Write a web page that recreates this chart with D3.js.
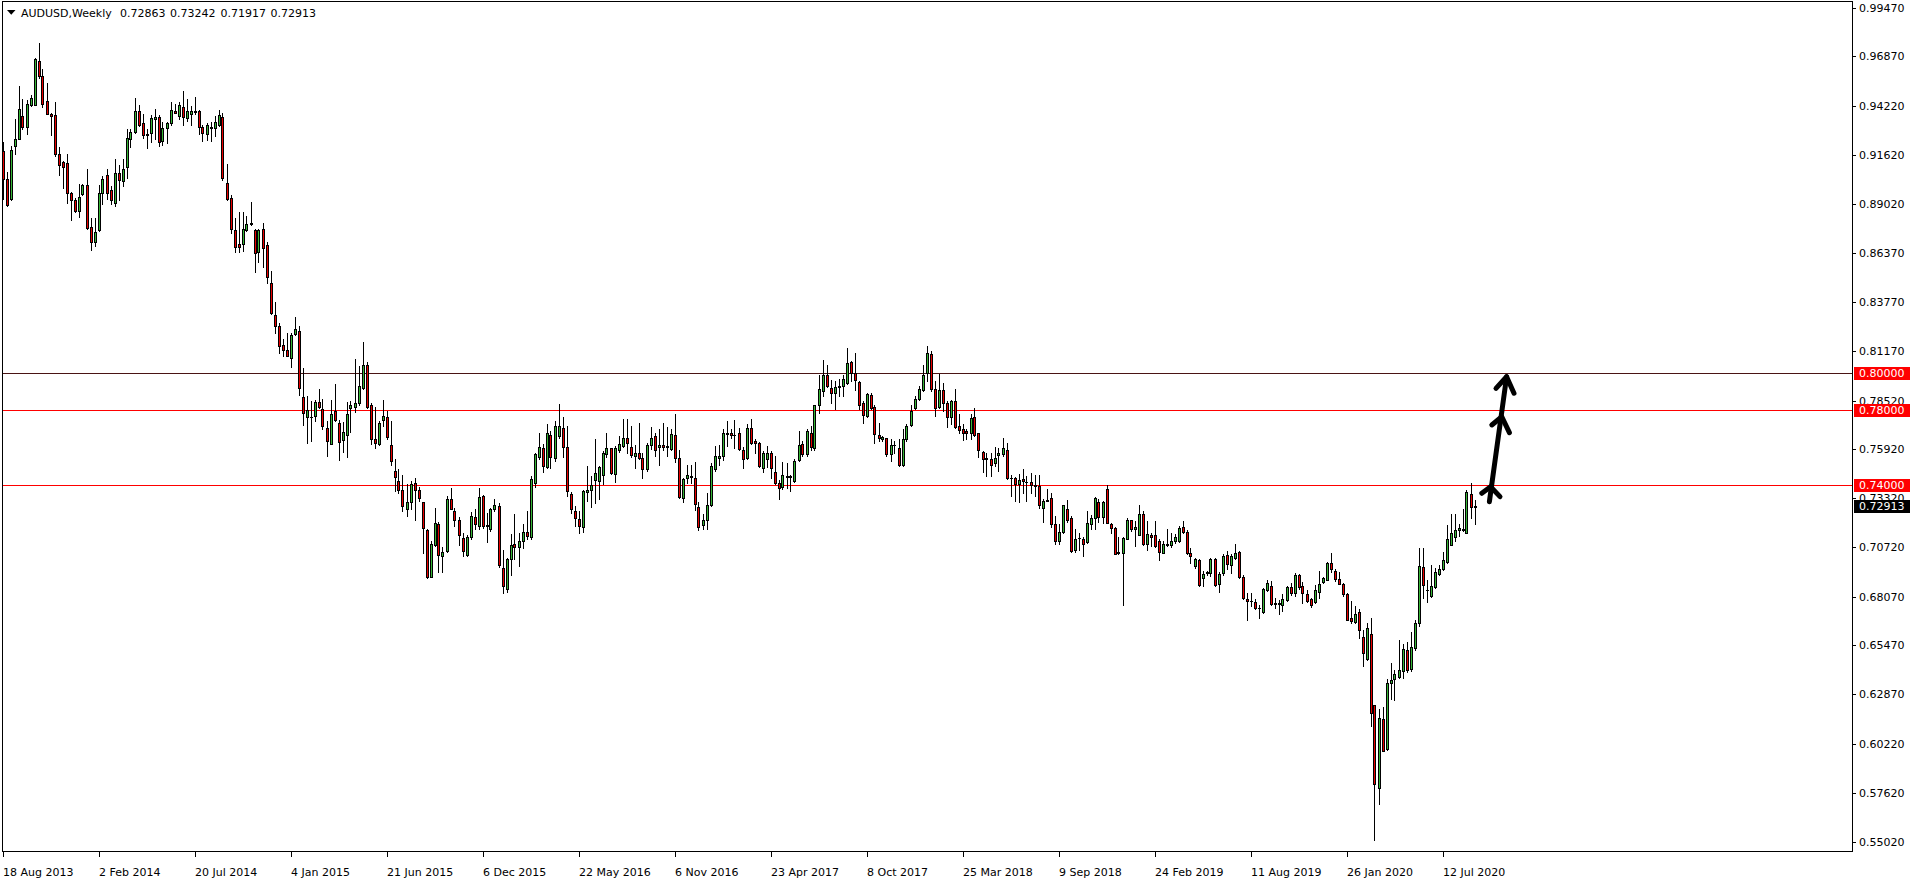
<!DOCTYPE html>
<html><head><meta charset="utf-8">
<script src="https://cdn.jsdelivr.net/npm/d3@7"></script>
<style>
html,body{margin:0;padding:0;background:#fff;overflow:hidden}
svg{display:block}
text{font-family:"DejaVu Sans",sans-serif;font-size:11px;fill:#000}
</style>
</head><body>
<svg id="chart" width="1916" height="884"></svg>
<script>
const symbol = "AUDUSD,Weekly";
const headerValues = ["0.72863", "0.73242", "0.71917", "0.72913"];

const openP = [
.9181,.9034,.8929,.9208,.9247,.9371,.9309,.9425,.9430,.9663,
.9581,.9450,.9380,.9375,.9165,.9125,.9119,.8959,.8920,.8862,
.8954,.8999,.8778,.8698,.8760,.8959,.9055,.8974,.8906,.9066,
.9021,.9098,.9247,.9284,.9395,.9332,.9274,.9279,.9354,.9364,
.9235,.9306,.9332,.9398,.9371,.9419,.9359,.9382,.9398,.9398,
.9311,.9274,.9311,.9306,.9323,.9364,.9013,.8933,.8759,.8684,
.8687,.8759,.8794,.8759,.8643,.8769,.8679,.8476,.8309,.8249,
.8146,.8124,.8080,.8208,.8225,.7872,.7764,.7764,.7769,.7847,
.7805,.7707,.7622,.7794,.7733,.7641,.7670,.7812,.7817,.7840,
.7920,.8039,.7826,.7648,.7622,.7748,.7766,.7613,.7479,.7424,
.7378,.7275,.7311,.7412,.7378,.7309,.7160,.6914,.7080,.7192,
.7023,.7049,.7325,.7261,.7218,.7120,.7028,.7124,.7232,.7186,
.7343,.7190,.7165,.7272,.7289,.6961,.6849,.7005,.7085,.7071,
.7106,.7151,.7124,.7414,.7551,.7600,.7497,.7671,.7547,.7662,
.7707,.7602,.7355,.7261,.7222,.7179,.7366,.7374,.7431,.7422,
.7455,.7565,.7597,.7462,.7588,.7609,.7654,.7606,.7556,.7574,
.7547,.7485,.7613,.7662,.7606,.7614,.7602,.7595,.7669,.7547,
.7334,.7440,.7449,.7440,.7284,.7190,.7213,.7293,.7485,.7547,
.7556,.7673,.7680,.7671,.7680,.7591,.7547,.7707,.7639,.7627,
.7494,.7542,.7574,.7472,.7414,.7392,.7446,.7448,.7422,.7533,
.7622,.7565,.7680,.7600,.7828,.7902,.7986,.7920,.7893,.7925,
.7929,.7947,.8057,.8000,.7952,.7837,.7769,.7884,.7819,.7669,
.7648,.7650,.7565,.7613,.7597,.7506,.7645,.7721,.7810,.7861,
.7906,.8000,.8101,.7915,.7817,.7908,.7840,.7765,.7852,.7716,
.7702,.7689,.7680,.7765,.7677,.7579,.7544,.7541,.7520,.7563,
.7568,.7591,.7439,.7440,.7407,.7435,.7420,.7419,.7401,.7399,
.7280,.7318,.7334,.7192,.7103,.7151,.7272,.7227,.7055,.7118,
.7115,.7097,.7192,.7224,.7314,.7231,.7382,.7195,.7174,.7046,
.7041,.7115,.7213,.7169,.7138,.7250,.7089,.7138,.7138,.7106,
.7041,.7081,.7080,.7103,.7103,.7179,.7154,.7041,.6969,.7000,
.6907,.6934,.6934,.7010,.6872,.6934,.7028,.6978,.7014,.7046,
.6911,.6797,.6784,.6778,.6748,.6724,.6842,.6866,.6771,.6769,
.6760,.6788,.6858,.6824,.6920,.6863,.6819,.6792,.6778,.6833,
.6886,.6898,.6987,.6946,.6902,.6875,.6819,.6691,.6671,.6726,
.6593,.6477,.6609,.6229,.5788,.6156,.5996,.6348,.6369,.6378,
.6410,.6524,.6419,.6531,.6665,.6966,.6845,.6810,.6859,.6930,
.6952,.6991,.7081,.7126,.7161,.7163,.7147,.7355,.72863];

const highP = [
.9231,.9071,.9208,.9355,.9528,.9457,.9453,.9483,.9679,.9759,
.9620,.9542,.9386,.9444,.9204,.9128,.9167,.8963,.8933,.9004,
.9004,.9087,.8826,.8826,.8999,.9048,.9084,.8995,.9137,.9110,
.9137,.9300,.9300,.9462,.9425,.9377,.9302,.9375,.9407,.9373,
.9336,.9336,.9442,.9435,.9446,.9503,.9460,.9421,.9469,.9403,
.9323,.9332,.9336,.9368,.9403,.9386,.9114,.8950,.8826,.8856,
.8856,.8835,.8911,.8764,.8764,.8796,.8698,.8544,.8378,.8266,
.8178,.8213,.8213,.8295,.8249,.8027,.7879,.7849,.7854,.7915,
.7861,.7742,.7854,.7943,.7751,.7737,.7844,.7849,.8076,.8035,
.8165,.8057,.7840,.7819,.7742,.7854,.7799,.7742,.7538,.7488,
.7453,.7405,.7423,.7440,.7392,.7312,.7165,.7106,.7282,.7204,
.7073,.7346,.7384,.7281,.7232,.7144,.7135,.7257,.7272,.7387,
.7348,.7254,.7281,.7328,.7307,.7055,.7014,.7143,.7245,.7147,
.7192,.7261,.7449,.7574,.7680,.7618,.7725,.7689,.7742,.7836,
.7764,.7719,.7366,.7289,.7263,.7373,.7502,.7449,.7645,.7503,
.7582,.7677,.7600,.7609,.7662,.7755,.7755,.7716,.7613,.7733,
.7570,.7627,.7712,.7680,.7702,.7733,.7712,.7698,.7781,.7586,
.7440,.7511,.7511,.7524,.7311,.7250,.7360,.7520,.7609,.7613,
.7698,.7742,.7698,.7748,.7707,.7606,.7725,.7755,.7645,.7630,
.7582,.7609,.7582,.7559,.7431,.7524,.7520,.7455,.7538,.7689,
.7636,.7701,.7716,.7831,.7988,.8066,.8039,.7961,.7959,.7968,
.7986,.8130,.8062,.8103,.7956,.7849,.7893,.7890,.7826,.7730,
.7662,.7653,.7645,.7639,.7648,.7698,.7725,.7826,.7876,.7929,
.8039,.8142,.8115,.7956,.7991,.7947,.7849,.7854,.7915,.7778,
.7725,.7698,.7778,.7810,.7680,.7582,.7570,.7570,.7606,.7600,
.7650,.7627,.7453,.7446,.7462,.7485,.7449,.7467,.7458,.7456,
.7325,.7382,.7360,.7236,.7192,.7296,.7320,.7236,.7165,.7144,
.7126,.7263,.7240,.7339,.7330,.7319,.7401,.7200,.7179,.7126,
.7126,.7224,.7218,.7209,.7298,.7263,.7209,.7147,.7209,.7112,
.7103,.7168,.7147,.7142,.7183,.7209,.7160,.7067,.7014,.7005,
.6943,.6946,.7014,.7014,.6937,.7032,.7049,.7032,.7085,.7049,
.6920,.6824,.6824,.6792,.6765,.6854,.6898,.6890,.6799,.6787,
.6819,.6863,.6881,.6934,.6930,.6884,.6842,.6801,.6867,.6943,
.6913,.6991,.7041,.6957,.6937,.6881,.6825,.6783,.6756,.6739,
.6627,.6664,.6691,.6232,.6206,.6220,.6369,.6451,.6414,.6575,
.6552,.6566,.6620,.6685,.7067,.7067,.6898,.6978,.6961,.6978,
.7044,.7188,.7245,.7245,.7192,.7275,.7373,.7414,.73242];

const lowP = [
.8924,.8888,.8920,.9164,.9244,.9297,.9275,.9421,.9425,.9572,
.9418,.9377,.9265,.9155,.9053,.8984,.8906,.8817,.8856,.8830,
.8950,.8764,.8657,.8675,.8755,.8902,.8927,.8902,.8888,.8920,
.8995,.9039,.9204,.9279,.9315,.9252,.9199,.9229,.9247,.9208,
.9212,.9226,.9323,.9383,.9354,.9323,.9341,.9323,.9382,.9275,
.9235,.9240,.9238,.9261,.9315,.9027,.8920,.8746,.8643,.8643,
.8648,.8755,.8789,.8536,.8592,.8565,.8476,.8316,.8213,.8107,
.8089,.8089,.8032,.8204,.7881,.7721,.7627,.7639,.7742,.7813,
.7703,.7559,.7618,.7742,.7533,.7579,.7549,.7684,.7790,.7831,
.7915,.7810,.7618,.7600,.7613,.7716,.7645,.7510,.7369,.7360,
.7263,.7236,.7272,.7215,.7316,.7037,.6907,.6911,.7076,.6937,
.6939,.7046,.7272,.7183,.7081,.7023,.7023,.7112,.7168,.7165,
.7174,.7097,.7156,.7263,.6966,.6824,.6831,.6920,.7005,.6973,
.7067,.7115,.7112,.7391,.7543,.7471,.7492,.7494,.7529,.7653,
.7552,.7342,.7254,.7183,.7144,.7151,.7316,.7286,.7307,.7325,
.7405,.7552,.7463,.7417,.7577,.7606,.7574,.7552,.7494,.7538,
.7440,.7476,.7595,.7556,.7508,.7591,.7556,.7591,.7524,.7334,
.7311,.7413,.7413,.7268,.7161,.7165,.7165,.7289,.7476,.7511,
.7535,.7609,.7650,.7600,.7591,.7494,.7538,.7618,.7574,.7497,
.7470,.7499,.7437,.7410,.7328,.7382,.7387,.7369,.7417,.7529,
.7559,.7556,.7588,.7588,.7787,.7879,.7925,.7837,.7805,.7876,
.7876,.7941,.7955,.7908,.7805,.7730,.7765,.7805,.7627,.7639,
.7636,.7559,.7529,.7574,.7503,.7503,.7639,.7716,.7805,.7854,
.7902,.7956,.7905,.7769,.7810,.7796,.7710,.7725,.7707,.7677,
.7641,.7645,.7645,.7662,.7552,.7471,.7450,.7449,.7502,.7476,
.7556,.7435,.7346,.7319,.7311,.7357,.7316,.7357,.7343,.7280,
.7204,.7316,.7179,.7090,.7090,.7147,.7204,.7044,.7044,.7058,
.7023,.7094,.7169,.7169,.7204,.7201,.7197,.7147,.7032,.7032,
.6762,.7112,.7156,.7076,.7135,.7080,.7058,.7076,.7073,.7002,
.7037,.7076,.7073,.7094,.7097,.7147,.7035,.6987,.6961,.6863,
.6863,.6925,.6916,.6863,.6831,.6925,.6957,.6934,.7009,.6907,
.6797,.6685,.6756,.6739,.6694,.6721,.6836,.6762,.6747,.6712,
.6730,.6783,.6815,.6810,.6849,.6774,.6779,.6753,.6771,.6801,
.6881,.6895,.6938,.6890,.6872,.6813,.6682,.6668,.6664,.6588,
.6437,.6472,.6120,.5509,.5703,.5984,.5989,.6264,.6255,.6374,
.6371,.6405,.6410,.6522,.6650,.6801,.6778,.6806,.6854,.6920,
.6948,.6984,.7080,.7106,.7129,.7156,.7144,.7227,.71917];

const closeP = [
.9034,.8894,.9187,.9247,.9407,.9309,.9434,.9466,.9670,.9581,
.9432,.9380,.9368,.9165,.9107,.9098,.8959,.8920,.8862,.8938,
.8999,.8771,.8698,.8751,.8959,.9034,.8959,.8920,.9066,.9027,
.9084,.9249,.9284,.9398,.9323,.9267,.9267,.9359,.9364,.9229,
.9306,.9332,.9402,.9386,.9425,.9364,.9393,.9393,.9391,.9309,
.9279,.9320,.9307,.9338,.9375,.9036,.8924,.8767,.8671,.8671,
.8764,.8794,.8799,.8636,.8759,.8666,.8510,.8320,.8249,.8142,
.8121,.8092,.8204,.8236,.7918,.7787,.7803,.7766,.7847,.7817,
.7716,.7636,.7778,.7748,.7632,.7685,.7781,.7826,.7840,.7932,
.8044,.7817,.7648,.7627,.7733,.7772,.7657,.7529,.7446,.7378,
.7289,.7314,.7408,.7376,.7332,.7172,.6914,.7090,.7197,.7028,
.7046,.7328,.7275,.7215,.7135,.7049,.7126,.7239,.7192,.7339,
.7186,.7183,.7272,.7298,.6975,.6863,.7009,.7083,.7071,.7105,
.7152,.7129,.7435,.7565,.7606,.7503,.7680,.7551,.7719,.7714,
.7606,.7369,.7272,.7227,.7183,.7369,.7378,.7400,.7467,.7497,
.7570,.7600,.7467,.7600,.7623,.7654,.7627,.7561,.7570,.7547,
.7488,.7616,.7655,.7591,.7613,.7602,.7609,.7675,.7547,.7337,
.7435,.7456,.7446,.7303,.7179,.7217,.7298,.7503,.7556,.7559,
.7680,.7677,.7668,.7668,.7595,.7542,.7708,.7627,.7627,.7503,
.7574,.7574,.7490,.7414,.7387,.7455,.7450,.7446,.7529,.7616,
.7568,.7689,.7606,.7826,.7915,.7986,.7929,.7893,.7925,.7932,
.7968,.8053,.8000,.7961,.7828,.7774,.7888,.7810,.7675,.7650,
.7659,.7565,.7613,.7615,.7506,.7645,.7719,.7799,.7861,.7916,
.7986,.8107,.7915,.7813,.7911,.7840,.7764,.7849,.7712,.7695,
.7680,.7677,.7760,.7668,.7586,.7541,.7541,.7508,.7547,.7570,
.7600,.7439,.7437,.7405,.7430,.7423,.7419,.7403,.7399,.7295,
.7319,.7320,.7192,.7103,.7152,.7293,.7213,.7049,.7115,.7121,
.7089,.7200,.7227,.7334,.7231,.7312,.7200,.7174,.7035,.7041,
.7121,.7218,.7165,.7179,.7250,.7089,.7142,.7126,.7076,.7044,
.7085,.7088,.7101,.7124,.7174,.7151,.7041,.7023,.7005,.6867,
.6930,.6941,.7005,.6868,.6930,.7026,.6982,.7023,.7041,.6911,
.6801,.6783,.6782,.6747,.6747,.6849,.6881,.6769,.6770,.6771,
.6792,.6859,.6824,.6920,.6858,.6824,.6786,.6760,.6845,.6877,
.6904,.6987,.6952,.6902,.6877,.6822,.6685,.6678,.6715,.6628,
.6508,.6641,.6188,.5809,.6161,.5987,.6348,.6364,.6396,.6417,
.6529,.6415,.6540,.6668,.6973,.6867,.6840,.6866,.6939,.6952,
.7002,.7112,.7147,.7160,.7174,.7165,.7366,.7284,.72913];

const priceTickLabels = ["0.99470","0.96870","0.94220","0.91620","0.89020","0.86370",
  "0.83770","0.81170","0.78520","0.75920","0.73320","0.70720","0.68070","0.65470",
  "0.62870","0.60220","0.57620","0.55020"];

const dateTickLabels = ["18 Aug 2013","2 Feb 2014","20 Jul 2014","4 Jan 2015","21 Jun 2015",
  "6 Dec 2015","22 May 2016","6 Nov 2016","23 Apr 2017","8 Oct 2017","25 Mar 2018",
  "9 Sep 2018","24 Feb 2019","11 Aug 2019","26 Jan 2020","12 Jul 2020"];
const dateTickBars = [0,24,48,72,96,120,144,168,192,216,240,264,288,312,336,360];

const levelPrices = [0.80, 0.78, 0.74];
const levelLabels = ["0.80000", "0.78000", "0.74000"];
const levelLineColors = ["#4a1414", "#ff0000", "#ff0000"];
const lastPriceLabel = "0.72913";

// hand-drawn arrow annotation, in (bar index, price)
const arrowStem = [[371.6, 0.7313], [375.9, 0.7979]];
const arrowHeads = [
  [[369.7, 0.7358], [371.9, 0.7393], [374.25, 0.7340]],
  [[372.2, 0.7722], [374.7, 0.7766], [376.6, 0.7681]],
  [[373.25, 0.7917], [375.9, 0.7979], [377.75, 0.7891]]
];

const bullColor = "#36b536";
const bearColor = "#e80000";

const svg = d3.select("#chart");
const frame = {left: 2, top: 1, right: 1852, bottom: 851};

const x = d3.scaleLinear().domain([0, 368]).range([3, 1475]);
const y = d3.scaleLinear().domain([0.5502, 0.9947]).range([841.5, 7.5]);

svg.append("rect").attr("width", 1916).attr("height", 884).attr("fill", "#fff");

svg.append("defs").append("clipPath").attr("id", "plotclip")
  .append("rect").attr("x", frame.left).attr("y", frame.top)
  .attr("width", frame.right - frame.left).attr("height", frame.bottom - frame.top);

const plot = svg.append("g").attr("clip-path", "url(#plotclip)").attr("shape-rendering", "crispEdges");

// level lines
levelPrices.forEach((p, k) => {
  const r = Math.round(y(p)) + 0.5;
  plot.append("line").attr("x1", frame.left).attr("x2", frame.right)
    .attr("y1", r).attr("y2", r).attr("stroke", levelLineColors[k]).attr("stroke-width", 1);
});

// candles
const data = openP.map((o, i) => ({i, o, h: highP[i], l: lowP[i], c: closeP[i]}));
const candles = plot.append("g");
data.forEach(d => {
  const col = Math.floor(x(d.i));
  const yh = Math.round(y(d.h)), yl = Math.round(y(d.l));
  candles.append("line").attr("x1", col + 0.5).attr("x2", col + 0.5)
    .attr("y1", yh).attr("y2", yl + 1).attr("stroke", "#000").attr("stroke-width", 1);
  const top = Math.round(y(Math.max(d.o, d.c)));
  const bot = Math.round(y(Math.min(d.o, d.c)));
  if (bot - top < 1) {
    candles.append("line").attr("x1", col - 1).attr("x2", col + 2)
      .attr("y1", top + 0.5).attr("y2", top + 0.5).attr("stroke", "#000");
  } else {
    candles.append("rect").attr("x", col - 0.5).attr("y", top + 0.5)
      .attr("width", 2).attr("height", bot - top)
      .attr("fill", d.c >= d.o ? bullColor : bearColor)
      .attr("stroke", "#000").attr("stroke-width", 1);
  }
});

// arrow annotation
const lineGen = d3.line().x(p => x(p[0])).y(p => y(p[1]));
const arrowG = svg.append("g").attr("fill", "none").attr("stroke", "#000")
  .attr("stroke-width", 5).attr("stroke-linecap", "round").attr("stroke-linejoin", "round");
arrowG.append("path").attr("d", lineGen(arrowStem));
arrowHeads.forEach(h => arrowG.append("path").attr("d", lineGen(h)));

// frame
svg.append("rect").attr("x", frame.left + 0.5).attr("y", frame.top + 0.5)
  .attr("width", frame.right - frame.left).attr("height", frame.bottom - frame.top)
  .attr("fill", "none").attr("stroke", "#000").attr("shape-rendering", "crispEdges");

// right price axis
const axR = svg.append("g").attr("shape-rendering", "crispEdges");
priceTickLabels.forEach(t => {
  const r = Math.round(y(+t));
  axR.append("line").attr("x1", frame.right + 1).attr("x2", frame.right + 4)
    .attr("y1", r + 0.5).attr("y2", r + 0.5).attr("stroke", "#000");
  axR.append("text").attr("x", 1859).attr("y", r).attr("dy", "0.36em").text(t);
});

// level labels
levelPrices.forEach((p, k) => {
  const r = Math.round(y(p));
  axR.append("rect").attr("x", 1854).attr("y", r - 6).attr("width", 56).attr("height", 13).attr("fill", "#ff0000");
  axR.append("text").attr("x", 1859).attr("y", r).attr("dy", "0.36em").style("fill", "#fff").text(levelLabels[k]);
});
{
  const r = Math.round(y(closeP[closeP.length - 1]));
  axR.append("rect").attr("x", 1854).attr("y", r - 6).attr("width", 56).attr("height", 13).attr("fill", "#000");
  axR.append("text").attr("x", 1859).attr("y", r).attr("dy", "0.36em").style("fill", "#fff").text(lastPriceLabel);
}

// bottom date axis
const axB = svg.append("g").attr("shape-rendering", "crispEdges");
dateTickBars.forEach((b, k) => {
  const col = Math.floor(x(b));
  axB.append("line").attr("x1", col + 0.5).attr("x2", col + 0.5)
    .attr("y1", frame.bottom + 1).attr("y2", frame.bottom + 6).attr("stroke", "#000");
  axB.append("text").attr("x", col).attr("y", 876).text(dateTickLabels[k]);
});

// header
svg.append("path").attr("d", "M7,10 L15.5,10 L11.25,14.7 Z").attr("fill", "#000");
const hdr = svg.append("text").attr("y", 17);
hdr.append("tspan").attr("x", 21).text(symbol);
const hx = [120, 170, 220.5, 270.5];
headerValues.forEach((v, k) => hdr.append("tspan").attr("x", hx[k]).text(v));
</script>
</body></html>
